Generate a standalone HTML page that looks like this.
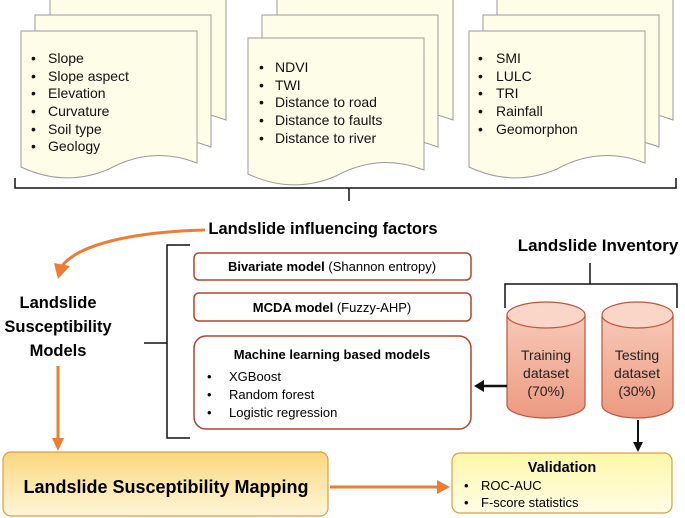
<!DOCTYPE html>
<html><head><meta charset="utf-8"><style>
html,body{margin:0;padding:0;background:#fff;}
svg{display:block;font-family:"Liberation Sans","DejaVu Sans",sans-serif;}
</style></head><body>
<svg width="685" height="518" viewBox="0 0 685 518" xmlns="http://www.w3.org/2000/svg">
<defs>
<linearGradient id="cyl" x1="0" y1="0" x2="0" y2="1"><stop offset="0" stop-color="#f7c9b8"/><stop offset="1" stop-color="#ec9a80"/></linearGradient>
<linearGradient id="lsm" x1="0" y1="0" x2="0" y2="1"><stop offset="0" stop-color="#fbd77e"/><stop offset="1" stop-color="#fff6d8"/></linearGradient>
<linearGradient id="val" x1="0" y1="0" x2="0" y2="1"><stop offset="0" stop-color="#fdf7a8"/><stop offset="1" stop-color="#fffde6"/></linearGradient>
<g id="doc"><path d="M0,0 H176 V132 C140,118 110,126 88,138 C60,150 30,150 0,136 Z" fill="#fdfde8" stroke="#9a9a9a" stroke-width="1"/></g>
</defs>
<use href="#doc" x="50" y="-12"/><use href="#doc" x="35" y="15"/><use href="#doc" x="21" y="31"/>
<use href="#doc" x="277" y="-12"/><use href="#doc" x="262" y="15"/><use href="#doc" x="248" y="38"/>
<use href="#doc" x="497" y="-12"/><use href="#doc" x="483" y="15"/><use href="#doc" x="469" y="31"/>
<g font-size="14" fill="#111">
<g><text x="31" y="63">•</text><text x="48" y="63">Slope</text>
<text x="31" y="81">•</text><text x="48" y="81">Slope aspect</text>
<text x="31" y="98">•</text><text x="48" y="98">Elevation</text>
<text x="31" y="116">•</text><text x="48" y="116">Curvature</text>
<text x="31" y="134">•</text><text x="48" y="134">Soil type</text>
<text x="31" y="151">•</text><text x="48" y="151">Geology</text></g>
<g><text x="259" y="72">•</text><text x="275" y="72">NDVI</text>
<text x="259" y="90">•</text><text x="275" y="90">TWI</text>
<text x="259" y="107">•</text><text x="275" y="107">Distance to road</text>
<text x="259" y="125">•</text><text x="275" y="125">Distance to faults</text>
<text x="259" y="143">•</text><text x="275" y="143">Distance to river</text></g>
<g><text x="478" y="63">•</text><text x="496" y="63">SMI</text>
<text x="478" y="81">•</text><text x="496" y="81">LULC</text>
<text x="478" y="98">•</text><text x="496" y="98">TRI</text>
<text x="478" y="116">•</text><text x="496" y="116">Rainfall</text>
<text x="478" y="134">•</text><text x="496" y="134">Geomorphon</text></g>
</g>
<path d="M15,178 V188 H349 V201 M349,188 H676 V178" fill="none" stroke="#111" stroke-width="1.5"/>
<text x="323" y="234" text-anchor="middle" font-size="16.5" font-weight="bold">Landslide influencing factors</text>
<path d="M205,230 C130,232 78,245 62,266" fill="none" stroke="#ee7d31" stroke-width="3"/>
<polygon points="54,263 70,266 58,279" fill="#ee7d31"/>
<g font-size="16.5" font-weight="bold" text-anchor="middle"><text x="58" y="308">Landslide</text><text x="58" y="332">Susceptibility</text><text x="58" y="356">Models</text></g>
<line x1="58" y1="366" x2="58" y2="440" stroke="#ee7d31" stroke-width="3"/>
<polygon points="52,438 64,438 58,451" fill="#ee7d31"/>
<path d="M190,245 H167 V343 H144 M167,343 V438 H190" fill="none" stroke="#111" stroke-width="1.5"/>
<rect x="194" y="253" width="277" height="27" rx="5" fill="#fff" stroke="#b5432b" stroke-width="1.5"/>
<text x="332" y="271" text-anchor="middle" font-size="13"><tspan font-weight="bold">Bivariate model</tspan> (Shannon entropy)</text>
<rect x="194" y="293" width="277" height="28" rx="5" fill="#fff" stroke="#b5432b" stroke-width="1.5"/>
<text x="332" y="312" text-anchor="middle" font-size="13"><tspan font-weight="bold">MCDA model</tspan> (Fuzzy-AHP)</text>
<rect x="194" y="336" width="277" height="93" rx="12" fill="#fff" stroke="#b5432b" stroke-width="1.5"/>
<text x="332" y="359" text-anchor="middle" font-size="13" font-weight="bold">Machine learning based models</text>
<g font-size="13"><text x="207" y="381">•</text><text x="229" y="381">XGBoost</text>
<text x="207" y="399">•</text><text x="229" y="399">Random forest</text>
<text x="207" y="417">•</text><text x="229" y="417">Logistic regression</text></g>
<text x="598" y="251" text-anchor="middle" font-size="17" font-weight="bold">Landslide Inventory</text>
<path d="M505,308 V284 H590 V263 M590,284 H677 V308" fill="none" stroke="#111" stroke-width="1.5"/>
<g stroke="#c0533a" stroke-width="1.2">
<path d="M507,315 V405 A39,13 0 0 0 585,405 V315" fill="url(#cyl)"/>
<ellipse cx="546" cy="315" rx="39" ry="13" fill="#f9d6c8"/>
<path d="M602,315 V405 A35.5,13 0 0 0 673,405 V315" fill="url(#cyl)"/>
<ellipse cx="637.5" cy="315" rx="35.5" ry="13" fill="#f9d6c8"/>
</g>
<g font-size="14" text-anchor="middle" fill="#222"><text x="546" y="360">Training</text><text x="546" y="378">dataset</text><text x="546" y="396">(70%)</text>
<text x="637" y="360">Testing</text><text x="637" y="378">dataset</text><text x="637" y="396">(30%)</text></g>
<line x1="507" y1="386" x2="482" y2="386" stroke="#111" stroke-width="2.5"/>
<polygon points="474,386 484,380 484,392" fill="#111"/>
<line x1="638" y1="420" x2="638" y2="444" stroke="#111" stroke-width="2"/>
<polygon points="633,442 643,442 638,452" fill="#111"/>
<rect x="3" y="452" width="325" height="64" rx="8" fill="url(#lsm)" stroke="#d9a040" stroke-width="1.2"/>
<text x="166" y="493" text-anchor="middle" font-size="18" font-weight="bold">Landslide Susceptibility Mapping</text>
<line x1="330" y1="487" x2="440" y2="487" stroke="#ee7d31" stroke-width="3"/>
<polygon points="437,480 450,487 437,494" fill="#ee7d31"/>
<rect x="452" y="453" width="220" height="60" rx="8" fill="url(#val)" stroke="#d9a040" stroke-width="1.2"/>
<text x="562" y="472" text-anchor="middle" font-size="14.5" font-weight="bold">Validation</text>
<g font-size="13"><text x="464" y="490">•</text><text x="481" y="490">ROC-AUC</text>
<text x="464" y="507">•</text><text x="481" y="507">F-score statistics</text></g>
</svg>
</body></html>
